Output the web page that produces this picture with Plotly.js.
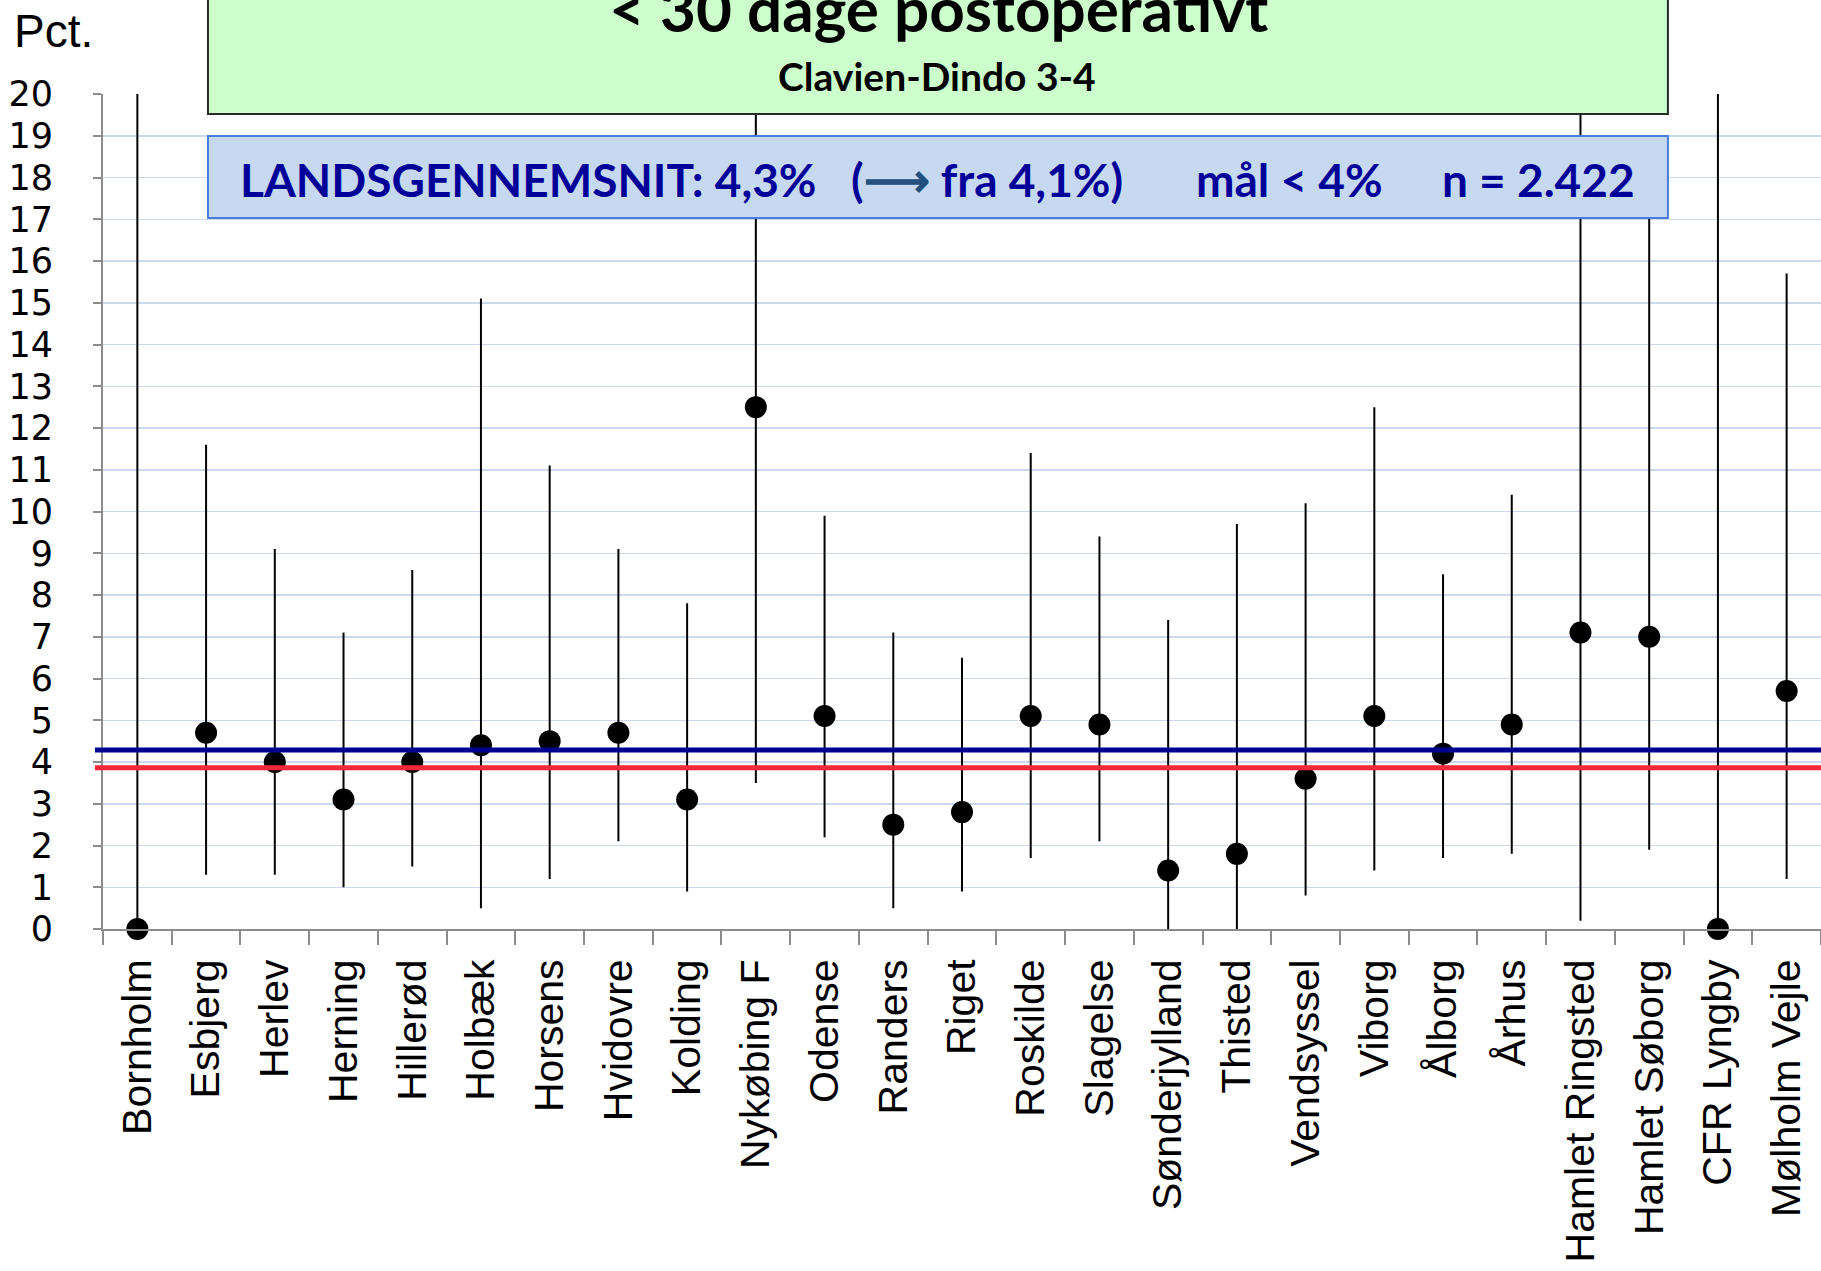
<!DOCTYPE html>
<html>
<head>
<meta charset="utf-8">
<script src="https://cdn.plot.ly/plotly-3.0.1.min.js"></script>
<style>html,body{margin:0;padding:0;background:#fff;}#chart{width:1821px;height:1271px;}</style>
</head>
<body>
<div id="chart"></div>
<script>
const categories = ["Bornholm","Esbjerg","Herlev","Herning","Hillerød","Holbæk","Horsens","Hvidovre","Kolding","Nykøbing F","Odense","Randers","Riget","Roskilde","Slagelse","Sønderjylland","Thisted","Vendsyssel","Viborg","Ålborg","Århus","Hamlet Ringsted","Hamlet Søborg","CFR Lyngby","Mølholm Vejle"];
const rates = [0, 4.7, 4.0, 3.1, 4.0, 4.4, 4.5, 4.7, 3.1, 12.5, 5.1, 2.5, 2.8, 5.1, 4.9, 1.4, 1.8, 3.6, 5.1, 4.2, 4.9, 7.1, 7.0, 0, 5.7];
const upperCI = [20, 11.6, 9.1, 7.1, 8.6, 15.1, 11.1, 9.1, 7.8, 20, 9.9, 7.1, 6.5, 11.4, 9.4, 7.4, 9.7, 10.2, 12.5, 8.5, 10.4, 20, 18, 20, 15.7];
const lowerCI = [0, 1.3, 1.3, 1.0, 1.5, 0.5, 1.2, 2.1, 0.9, 3.5, 2.2, 0.5, 0.9, 1.7, 2.1, 0, 0, 0.8, 1.4, 1.7, 1.8, 0.2, 1.9, 0, 1.2];
const nationalAverage = 4.29;
const targetLine = 3.86;
const yTicks = [0,1,2,3,4,5,6,7,8,9,10,11,12,13,14,15,16,17,18,19,20];

const errPlus = rates.map((v, i) => upperCI[i] - v);
const errMinus = rates.map((v, i) => v - lowerCI[i]);

const trace = {
  type: 'scatter',
  mode: 'markers',
  x: categories,
  y: rates,
  cliponaxis: false,
  marker: {color: '#000000', size: 22},
  error_y: {type: 'data', symmetric: false, array: errPlus, arrayminus: errMinus, color: '#000000', thickness: 2, width: 0},
  hoverinfo: 'x+y'
};

const layout = {
  width: 1821,
  height: 1271,
  margin: {l: 103, r: 0, t: 94, b: 342},
  paper_bgcolor: '#ffffff',
  plot_bgcolor: '#ffffff',
  showlegend: false,
  xaxis: {
    type: 'category',
    range: [-0.5, categories.length - 0.5],
    tickson: 'boundaries',
    ticks: 'outside',
    ticklen: 14,
    tickwidth: 2,
    tickcolor: '#8c8c8c',
    showline: true,
    linecolor: '#8c8c8c',
    linewidth: 2,
    showgrid: false,
    zeroline: false,
    tickangle: -90,
    ticklabelstandoff: 12,
    tickfont: {family: 'Liberation Sans, Arial, sans-serif', size: 41, color: '#000000'}
  },
  yaxis: {
    range: [0, 20],
    tickvals: yTicks,
    ticktext: yTicks.map(String),
    ticks: 'outside',
    ticklen: 8,
    tickwidth: 2,
    tickcolor: '#8c8c8c',
    showline: true,
    linecolor: '#8c8c8c',
    linewidth: 2,
    showgrid: true,
    gridcolor: '#ccd9ec',
    gridwidth: 1.5,
    zeroline: false,
    ticklabelstandoff: 33,
    tickfont: {family: 'DejaVu Sans, Verdana, sans-serif', size: 35, color: '#000000'}
  },
  shapes: [
    {type: 'line', xref: 'paper', yref: 'y', x0: -0.0047, x1: 1, y0: nationalAverage, y1: nationalAverage, line: {color: '#000090', width: 5}, layer: 'above'},
    {type: 'line', xref: 'paper', yref: 'y', x0: -0.0047, x1: 1, y0: targetLine, y1: targetLine, line: {color: '#f52838', width: 5}, layer: 'above'},
    {type: 'rect', xref: 'paper', yref: 'paper', x0: 0.0611, x1: 0.9109, y0: 0.976, y1: 1.13, fillcolor: '#ccffcc', line: {color: '#2a2a2a', width: 2}, layer: 'above'},
    {type: 'rect', xref: 'paper', yref: 'paper', x0: 0.0611, x1: 0.9109, y0: 0.8515, y1: 0.9497, fillcolor: '#c6d9f1', line: {color: '#4a7ddb', width: 2}, layer: 'above'}
  ],
  annotations: [
    {xref: 'paper', yref: 'paper', x: (938 - 103) / 1718, y: 1.103, xanchor: 'center', yanchor: 'middle', showarrow: false,
     text: '<b>&lt; 30 dage postoperativt</b>', font: {family: 'Lato, sans-serif', size: 62, color: '#000000'}},
    {xref: 'paper', yref: 'paper', x: (937 - 103) / 1718, y: 1.0216, xanchor: 'center', yanchor: 'middle', showarrow: false,
     text: '<b>Clavien-Dindo 3-4</b>', font: {family: 'Lato, sans-serif', size: 39, color: '#000000'}},
    {xref: 'paper', yref: 'paper', x: (528 - 103) / 1718, y: 0.898, xanchor: 'center', yanchor: 'middle', showarrow: false,
     text: '<b>LANDSGENNEMSNIT: 4,3%</b>', font: {family: 'Lato, sans-serif', size: 46, color: '#000099'}},
    {xref: 'paper', yref: 'paper', x: (987 - 103) / 1718, y: 0.898, xanchor: 'center', yanchor: 'middle', showarrow: false,
     text: '<b>(<span style="color:#24507e">⟶</span> fra 4,1%)</b>', font: {family: 'Lato, sans-serif', size: 46, color: '#000099'}},
    {xref: 'paper', yref: 'paper', x: (1289 - 103) / 1718, y: 0.898, xanchor: 'center', yanchor: 'middle', showarrow: false,
     text: '<b>mål &lt; 4%</b>', font: {family: 'Lato, sans-serif', size: 46, color: '#000099'}},
    {xref: 'paper', yref: 'paper', x: (1538 - 103) / 1718, y: 0.898, xanchor: 'center', yanchor: 'middle', showarrow: false,
     text: '<b>n = 2.422</b>', font: {family: 'Lato, sans-serif', size: 46, color: '#000099'}},
    {xref: 'paper', yref: 'paper', x: (12 - 103) / 1718, y: (929 - 31) / 835, xanchor: 'left', yanchor: 'middle', showarrow: false,
     text: 'Pct.', font: {family: 'Liberation Sans, Arial, sans-serif', size: 46, color: '#000000'}}
  ]
};

Plotly.newPlot('chart', [trace], layout, {displayModeBar: false, staticPlot: true});
</script>
</body>
</html>
